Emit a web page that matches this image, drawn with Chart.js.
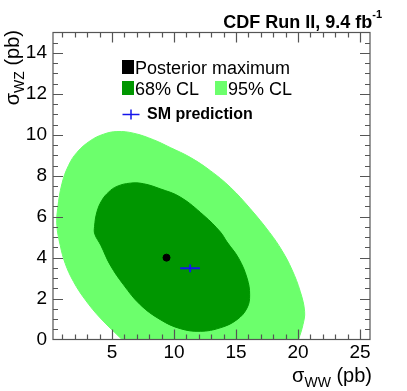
<!DOCTYPE html>
<html>
<head>
<meta charset="utf-8">
<script src="https://cdn.jsdelivr.net/npm/chart.js@4.4.1/dist/chart.umd.min.js"></script>
<style>
  html, body { margin: 0; padding: 0; background: #fff; }
</style>
</head>
<body>
<canvas id="c" width="407" height="391"></canvas>
<script>
const FONT = "'Liberation Sans', Arial, Helvetica, sans-serif";

const X_TICKS = [5, 10, 15, 20, 25];
const Y_TICKS = [0, 2, 4, 6, 8, 10, 12, 14];

// 95% CL contour (sigma_WW, sigma_WZ); cut by the x axis
const CL95_WW = [5.81, 4.06, 2.85, 1.90, 1.23, 0.83, 0.56, 0.63, 0.97, 1.50, 2.18, 3.25, 4.32, 5.40, 6.74, 8.35, 9.70, 11.31, 12.93, 14.54, 16.15, 17.72, 18.70, 19.52, 20.18, 20.53, 20.40, 20.05];
const CL95_WZ = [0.0, 1.05, 1.94, 2.83, 3.72, 4.61, 5.58, 6.41, 7.61, 8.50, 9.14, 9.71, 10.03, 10.16, 10.08, 9.76, 9.38, 8.90, 8.25, 7.44, 6.39, 5.22, 4.35, 3.40, 2.34, 1.37, 0.73, 0.0];

// 68% CL contour (closed)
const CL68_WW = [3.60, 3.79, 4.19, 4.73, 5.40, 6.48, 7.55, 8.90, 10.51, 12.39, 13.73, 14.27, 15.21, 15.89, 16.10, 15.89, 15.08, 13.73, 12.12, 10.51, 8.90, 7.28, 5.94, 4.86, 4.10, 3.62];
const CL68_WZ = [5.53, 6.23, 6.80, 7.20, 7.48, 7.64, 7.61, 7.36, 6.96, 6.07, 5.26, 4.77, 3.97, 3.00, 2.18, 1.54, 0.97, 0.57, 0.40, 0.53, 0.97, 1.70, 2.67, 3.64, 4.61, 5.15];

const POSTERIOR_WW = [9.4];
const POSTERIOR_WZ = [4.0];

const SM_WW = [11.3], SM_WW_ERR = [0.8];
const SM_WZ = [3.48], SM_WZ_ERR = [0.19];

const C68 = 'rgb(0,150,0)';
const C95 = 'rgb(108,255,108)';
const CSM = 'rgb(20,20,235)';

const xy = (xs, ys) => xs.map((v, i) => ({x: v, y: ys[i]}));

const contour = (key, label, xs, ys, color, order, closed) => ({
  type: 'line', key, label, closed, data: xy(xs, ys), fill: 'shape',
  backgroundColor: color, borderColor: color, borderWidth: 1,
  pointRadius: 0, tension: 0.4, order
});

// let a contour wrap round so the spline has no seam
const loopContours = {
  id: 'loopContours',
  afterDatasetUpdate(chart, args) {
    if (chart.data.datasets[args.index].closed) {
      args.meta.dataset._loop = true;
      args.meta.dataset._fullLoop = true;
    }
  }
};

const rootFrame = {
  id: 'rootFrame',
  afterDraw(chart) {
    const {ctx, chartArea: a, scales: {x, y}} = chart;
    ctx.save();
    ctx.strokeStyle = '#555';
    ctx.lineWidth = 1.2;
    ctx.beginPath();
    for (let v = 1; v <= 25; v++) {
      const px = Math.round(x.getPixelForValue(v)) + 0.5;
      const len = v % 5 === 0 ? 10 : 5;
      ctx.moveTo(px, a.bottom); ctx.lineTo(px, a.bottom - len);
      ctx.moveTo(px, a.top); ctx.lineTo(px, a.top + len);
    }
    for (let v = 0.5; v < 15; v += 0.5) {
      const py = Math.round(y.getPixelForValue(v)) + 0.5;
      const len = v % 2 === 0 ? 10 : 5;
      ctx.moveTo(a.left, py); ctx.lineTo(a.left + len, py);
      ctx.moveTo(a.right, py); ctx.lineTo(a.right - len, py);
    }
    ctx.stroke();
    ctx.strokeRect(a.left, a.top, a.width, a.height);

    // header
    ctx.fillStyle = '#000';
    ctx.textBaseline = 'alphabetic';
    ctx.font = 'bold 11px ' + FONT;
    const supW = ctx.measureText('-1').width;
    ctx.fillText('-1', 382 - supW, 18);
    ctx.font = 'bold 18px ' + FONT;
    const tW = ctx.measureText('CDF Run II, 9.4 fb').width;
    ctx.fillText('CDF Run II, 9.4 fb', 382 - supW - tW, 27.5);

    // x title
    const xt = [['σ', 20, 382], ['WW', 14, 386.5], [' (pb)', 20, 382]];
    let widths = xt.map(([s, f]) => { ctx.font = f + 'px ' + FONT; return ctx.measureText(s).width; });
    let cx = 372 - widths.reduce((p, c) => p + c, 0);
    xt.forEach(([s, f, b], i) => { ctx.font = f + 'px ' + FONT; ctx.fillText(s, cx, b); cx += widths[i]; });

    // y title (rotated)
    const yt = [['σ', 20, 0], ['WZ', 14, 4.5], [' (pb)', 20, 0]];
    widths = yt.map(([s, f]) => { ctx.font = f + 'px ' + FONT; return ctx.measureText(s).width; });
    ctx.save();
    ctx.translate(19, 30 + widths.reduce((p, c) => p + c, 0));
    ctx.rotate(-Math.PI / 2);
    cx = 0;
    yt.forEach(([s, f, d], i) => { ctx.font = f + 'px ' + FONT; ctx.fillText(s, cx, d); cx += widths[i]; });
    ctx.restore();

    // legend
    const ds = chart.data.datasets;
    const label = k => ds.find(d => d.key === k).label;
    ctx.font = '18px ' + FONT;
    ctx.fillStyle = '#000';
    ctx.fillRect(122, 60, 12, 14);
    ctx.fillText(label('max'), 135, 73.5);
    ctx.fillStyle = C68;
    ctx.fillRect(122, 81, 12, 14);
    ctx.fillStyle = C95;
    ctx.fillRect(215, 81, 12, 14);
    ctx.fillStyle = '#000';
    ctx.fillText(label('c68'), 135, 95);
    ctx.fillText(label('c95'), 228, 95);
    ctx.strokeStyle = CSM;
    ctx.lineWidth = 1.5;
    ctx.beginPath();
    ctx.moveTo(122.5, 114.5); ctx.lineTo(139.5, 114.5);
    ctx.moveTo(131, 109.5); ctx.lineTo(131, 119.5);
    ctx.stroke();
    ctx.font = 'bold 16px ' + FONT;
    ctx.fillText(label('sm'), 147, 119);
    ctx.restore();
  }
};

new Chart(document.getElementById('c'), {
  type: 'scatter',
  data: {
    datasets: [
      contour('c95', '95% CL', CL95_WW, CL95_WZ, C95, 5, false),
      contour('c68', '68% CL', CL68_WW, CL68_WZ, C68, 4, true),
      {
        key: 'max', label: 'Posterior maximum', data: xy(POSTERIOR_WW, POSTERIOR_WZ),
        pointRadius: 3.5, backgroundColor: '#000', borderColor: '#000', order: 1
      },
      {
        key: 'sm', label: 'SM prediction', type: 'line', order: 2,
        data: [{x: SM_WW[0] - SM_WW_ERR[0], y: SM_WZ[0]}, {x: SM_WW[0] + SM_WW_ERR[0], y: SM_WZ[0]}],
        borderColor: CSM, borderWidth: 2, pointRadius: 0, fill: false
      },
      {
        key: 'smv', label: 'SM prediction', type: 'line', order: 2,
        data: [{x: SM_WW[0], y: SM_WZ[0] - SM_WZ_ERR[0]}, {x: SM_WW[0], y: SM_WZ[0] + SM_WZ_ERR[0]}],
        borderColor: CSM, borderWidth: 2, pointRadius: 0, fill: false
      }
    ]
  },
  options: {
    responsive: false,
    animation: false,
    layout: { padding: { top: 32.5, right: 37, left: 0, bottom: 0 } },
    plugins: { legend: { display: false }, tooltip: { enabled: false } },
    scales: {
      x: {
        type: 'linear', min: 0.25, max: 25.8,
        afterBuildTicks: s => { s.ticks = X_TICKS.map(v => ({value: v})); },
        afterFit: s => { s.height = 51.5; },
        grid: { display: false, drawTicks: false },
        border: { display: false },
        ticks: { color: '#000', padding: 2, maxRotation: 0, font: { family: FONT, size: 19 } }
      },
      y: {
        type: 'linear', min: 0, max: 15,
        afterBuildTicks: s => { s.ticks = Y_TICKS.map(v => ({value: v})); },
        afterFit: s => { s.width = 53; },
        grid: { display: false, drawTicks: false },
        border: { display: false },
        ticks: { color: '#000', padding: 6, font: { family: FONT, size: 19 } }
      }
    }
  },
  plugins: [loopContours, rootFrame]
});
</script>
</body>
</html>
